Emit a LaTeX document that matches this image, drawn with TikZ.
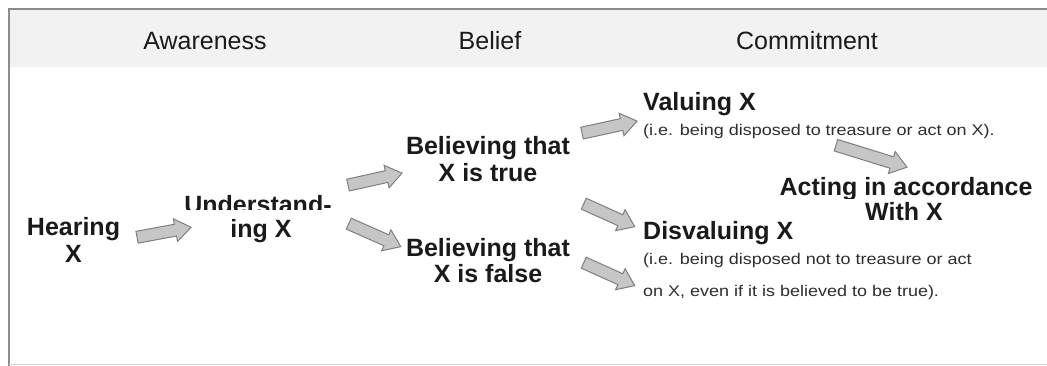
\documentclass[tikz,border=0pt]{standalone}
\usepackage{fontspec}
\setmainfont{Liberation Sans}
\usetikzlibrary{shapes.arrows,calc}
\definecolor{band}{HTML}{F2F2F2}
\definecolor{framecol}{HTML}{8C8C8C}
\definecolor{bottomcol}{HTML}{D4D4D4}
\definecolor{arrfill}{HTML}{C6C6C6}
\definecolor{arrline}{HTML}{7F7F7F}
\definecolor{txt}{HTML}{1A1A1A}
\definecolor{smalltxt}{HTML}{2E2E2E}
\newcommand\blockarrow[3]{%
  \path let \p1=(#2), \p2=(#3),
    \n1={atan2(\y2-\y1,\x2-\x1)},
    \n2={veclen(\x2-\x1,\y2-\y1)} in
    node[blockarr, minimum height=\n2, rotate=\n1] (#1) at ($(#2)!0.5!(#3)$) {};}
\begin{document}
\begin{tikzpicture}[x=1pt,y=-1pt,
  head/.style={font=\fontsize{25}{28}\selectfont, text=txt, inner sep=0pt, anchor=base},
  big/.style={font=\fontsize{25}{27}\selectfont\bfseries, text=txt, inner sep=0pt, anchor=base, align=center},
  note/.style={font=\fontsize{15.5}{32}\selectfont, text=smalltxt, inner sep=0pt, anchor=base west, align=left},
  blockarr/.style={single arrow, draw=arrline, fill=arrfill, line width=1pt, inner sep=0pt,
    text height=5.5pt, text depth=5.5pt, single arrow head extend=5.5pt,
    single arrow tip angle=72, single arrow head indent=0pt}
]
\useasboundingbox (0,0) rectangle (1047,366);
% background band and frame
\fill[white] (0,0) rectangle (1047,366);
\fill[band] (10,10) rectangle (1047,67);
\draw[framecol, line width=2pt] (9,366) -- (9,9) -- (1047,9);
\draw[bottomcol, line width=1.5pt] (9,364.5) -- (1047,364.5);

% headers
\node[head] (aw) at (205,50) {Awareness};
\node[head] (be) at (490,50) {Belief};
\node[head] (co) at (807,50) {Commitment};

% nodes (base anchor = baseline of last line)
\node[big] (hear) at (73.5,262) {Hearing\\X};
\begin{scope}
  \clip (150,150) rectangle (360,210);
  \node[big] (und1) at (258,214) {Understand-};
\end{scope}
\node[big] (und2) at (261,237) {ing X};
\node[big] (btrue) at (488,182) {Believing that\\X is true};
\node[big] (bfalse) at (488,283) {Believing that\\X is false};
\node[big, anchor=base west] (val) at (643,111) {Valuing X};
\node[note] (valn) at (643,136) {\scalebox{1.16}[1]{(i.e. being disposed  to treasure  or act on X).}};
\node[big, anchor=base west] (disval) at (643,240) {Disvaluing X};
\node[note] (disn) at (643,296) {\scalebox{1.16}[1]{(i.e. being disposed  not to treasure  or act}\\\scalebox{1.16}[1]{on X, even  if it is believed  to be true).}};
\begin{scope}
  \clip (760,160) rectangle (1047,199);
  \node[big] (act1) at (906,196) {Acting in accordance};
\end{scope}
\node[big] (act2) at (904,221) {With X};

% arrow end points
\coordinate (a1s) at (133,238); \coordinate (a1e) at (187,228);
\coordinate (a2s) at (344,186); \coordinate (a2e) at (398,174);
\coordinate (a3s) at (345,222); \coordinate (a3e) at (397,245);
\coordinate (a4s) at (578,134); \coordinate (a4e) at (633,122);
\coordinate (a5s) at (580,202); \coordinate (a5e) at (631,225);
\coordinate (a6s) at (580,261); \coordinate (a6e) at (631,284);
\coordinate (a7s) at (832,144); \coordinate (a7e) at (903,166);
\blockarrow{ar1}{a1s}{a1e}
\blockarrow{ar2}{a2s}{a2e}
\blockarrow{ar3}{a3s}{a3e}
\blockarrow{ar4}{a4s}{a4e}
\blockarrow{ar5}{a5s}{a5e}
\blockarrow{ar6}{a6s}{a6e}
\blockarrow{ar7}{a7s}{a7e}
\end{tikzpicture}
\end{document}
